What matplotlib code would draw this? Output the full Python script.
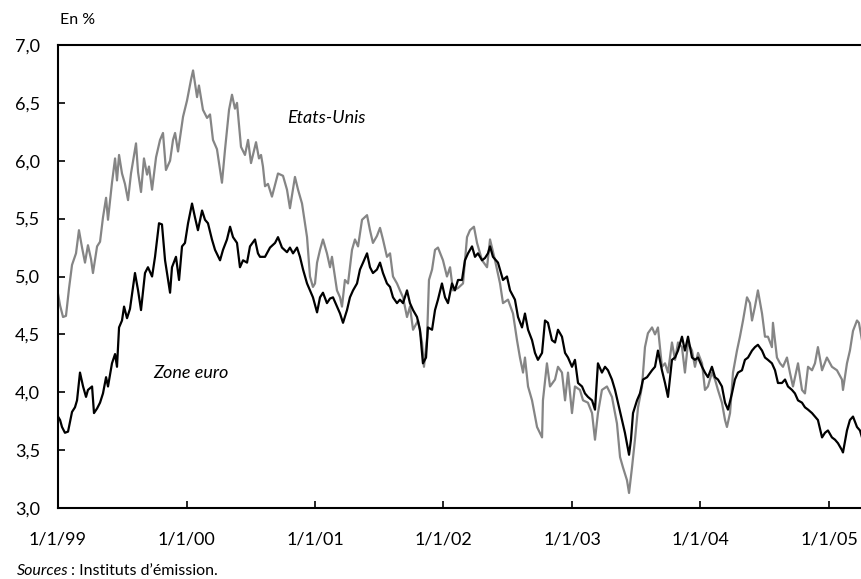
import matplotlib
matplotlib.use("Agg")
import matplotlib.pyplot as plt

# Taux longs (10 ans) - dates en années décimales
us_t = [1999.000, 1999.016, 1999.039, 1999.062, 1999.086, 1999.109, 1999.140, 1999.163, 1999.187, 1999.210,
        1999.233, 1999.257, 1999.272, 1999.304, 1999.327, 1999.350, 1999.374, 1999.389, 1999.420, 1999.444,
        1999.459, 1999.475, 1999.498, 1999.521, 1999.545, 1999.568, 1999.607, 1999.623, 1999.646, 1999.669,
        1999.693, 1999.708, 1999.732, 1999.763, 1999.794, 1999.817, 1999.840, 1999.872, 1999.895, 1999.911,
        1999.934, 1999.973, 2000.004, 2000.035, 2000.051, 2000.082, 2000.097, 2000.128, 2000.160, 2000.183,
        2000.206, 2000.237, 2000.253, 2000.276, 2000.300, 2000.331, 2000.354, 2000.377, 2000.393, 2000.409,
        2000.424, 2000.455, 2000.479, 2000.502, 2000.541, 2000.564, 2000.580, 2000.595, 2000.611, 2000.634,
        2000.665, 2000.712, 2000.751, 2000.782, 2000.805, 2000.844, 2000.868, 2000.899, 2000.938, 2000.961,
        2000.984, 2001.000, 2001.016, 2001.039, 2001.062, 2001.093, 2001.117, 2001.132, 2001.171, 2001.195,
        2001.210, 2001.233, 2001.257, 2001.288, 2001.311, 2001.335, 2001.366, 2001.405, 2001.428, 2001.451,
        2001.482, 2001.506, 2001.529, 2001.560, 2001.584, 2001.607, 2001.638, 2001.661, 2001.685, 2001.716,
        2001.739, 2001.763, 2001.802, 2001.833, 2001.848, 2001.872, 2001.887, 2001.911, 2001.934, 2001.957,
        2001.996, 2002.027, 2002.051, 2002.074, 2002.113, 2002.152, 2002.183, 2002.206, 2002.237, 2002.261,
        2002.300, 2002.339, 2002.362, 2002.401, 2002.440, 2002.463, 2002.502, 2002.541, 2002.572, 2002.595,
        2002.619, 2002.634, 2002.658, 2002.689, 2002.728, 2002.767, 2002.774, 2002.805, 2002.829, 2002.868,
        2002.891, 2002.922, 2002.946, 2002.969, 2003.000, 2003.023, 2003.062, 2003.086, 2003.124, 2003.156,
        2003.179, 2003.202, 2003.233, 2003.272, 2003.311, 2003.350, 2003.374, 2003.397, 2003.428, 2003.444,
        2003.467, 2003.490, 2003.514, 2003.545, 2003.568, 2003.591, 2003.623, 2003.646, 2003.669, 2003.700,
        2003.724, 2003.747, 2003.778, 2003.802, 2003.825, 2003.856, 2003.879, 2003.903, 2003.934, 2003.957,
        2003.981, 2004.012, 2004.035, 2004.058, 2004.089, 2004.113, 2004.136, 2004.167, 2004.191, 2004.206,
        2004.230, 2004.253, 2004.284, 2004.307, 2004.331, 2004.362, 2004.385, 2004.401, 2004.424, 2004.447,
        2004.479, 2004.502, 2004.525, 2004.556, 2004.564, 2004.595, 2004.619, 2004.642, 2004.673, 2004.696,
        2004.720, 2004.759, 2004.790, 2004.813, 2004.837, 2004.868, 2004.891, 2004.914, 2004.946, 2004.984,
        2005.023, 2005.062, 2005.101, 2005.109, 2005.140, 2005.163, 2005.187, 2005.218, 2005.233, 2005.257]
us_v = [4.85, 4.75, 4.65, 4.66, 4.90, 5.10, 5.20, 5.40, 5.25, 5.12,
        5.27, 5.15, 5.03, 5.26, 5.30, 5.51, 5.68, 5.49, 5.81, 6.02,
        5.83, 6.05, 5.89, 5.80, 5.66, 5.89, 6.15, 5.90, 5.73, 6.02,
        5.88, 5.95, 5.75, 6.03, 6.18, 6.24, 5.92, 6.00, 6.18, 6.24,
        6.08, 6.38, 6.52, 6.70, 6.78, 6.55, 6.65, 6.44, 6.37, 6.40,
        6.18, 6.10, 5.98, 5.81, 6.10, 6.44, 6.57, 6.45, 6.50, 6.30,
        6.12, 6.05, 6.18, 5.98, 6.16, 6.02, 6.05, 5.95, 5.78, 5.80,
        5.69, 5.89, 5.87, 5.75, 5.59, 5.86, 5.75, 5.63, 5.34, 5.00,
        4.91, 4.94, 5.12, 5.23, 5.32, 5.20, 5.08, 5.17, 4.88, 4.82,
        4.74, 4.97, 4.94, 5.23, 5.32, 5.26, 5.49, 5.53, 5.40, 5.29,
        5.35, 5.42, 5.32, 5.17, 5.20, 5.00, 4.94, 4.88, 4.82, 4.65,
        4.74, 4.54, 4.62, 4.43, 4.22, 4.47, 4.97, 5.06, 5.23, 5.25,
        5.14, 5.00, 5.08, 4.88, 4.90, 4.94, 5.34, 5.40, 5.43, 5.29,
        5.14, 5.08, 5.32, 5.14, 4.94, 4.77, 4.80, 4.68, 4.45, 4.30,
        4.17, 4.30, 4.05, 3.93, 3.70, 3.61, 3.93, 4.25, 4.05, 4.11,
        4.22, 4.17, 3.93, 4.17, 3.82, 4.05, 4.02, 3.93, 3.91, 3.82,
        3.59, 3.82, 4.02, 4.05, 3.96, 3.73, 3.44, 3.35, 3.24, 3.13,
        3.35, 3.59, 3.87, 4.05, 4.39, 4.51, 4.56, 4.50, 4.56, 4.22,
        4.25, 4.17, 4.43, 4.28, 4.43, 4.39, 4.17, 4.43, 4.36, 4.22,
        4.34, 4.25, 4.02, 4.05, 4.17, 4.11, 4.02, 3.91, 3.76, 3.70,
        3.82, 4.17, 4.36, 4.48, 4.62, 4.82, 4.77, 4.62, 4.74, 4.88,
        4.68, 4.48, 4.48, 4.39, 4.60, 4.30, 4.25, 4.22, 4.30, 4.17,
        4.05, 4.25, 4.02, 3.99, 4.22, 4.19, 4.25, 4.39, 4.19, 4.30,
        4.22, 4.19, 4.11, 4.02, 4.25, 4.36, 4.53, 4.62, 4.60, 4.45]

eu_t = [1999.000, 1999.016, 1999.031, 1999.054, 1999.078, 1999.109, 1999.132, 1999.148, 1999.171, 1999.195,
        1999.218, 1999.233, 1999.265, 1999.280, 1999.304, 1999.327, 1999.350, 1999.374, 1999.389, 1999.420,
        1999.444, 1999.459, 1999.475, 1999.498, 1999.514, 1999.537, 1999.560, 1999.584, 1999.599, 1999.623,
        1999.646, 1999.677, 1999.700, 1999.732, 1999.755, 1999.786, 1999.809, 1999.833, 1999.872, 1999.887,
        1999.918, 1999.942, 1999.965, 1999.988, 2000.012, 2000.043, 2000.066, 2000.089, 2000.121, 2000.144,
        2000.167, 2000.198, 2000.222, 2000.261, 2000.284, 2000.315, 2000.339, 2000.362, 2000.393, 2000.416,
        2000.440, 2000.471, 2000.494, 2000.533, 2000.556, 2000.572, 2000.611, 2000.650, 2000.689, 2000.712,
        2000.743, 2000.782, 2000.805, 2000.829, 2000.860, 2000.883, 2000.907, 2000.938, 2000.961, 2000.984,
        2001.016, 2001.039, 2001.062, 2001.093, 2001.117, 2001.140, 2001.171, 2001.195, 2001.218, 2001.249,
        2001.272, 2001.296, 2001.327, 2001.350, 2001.374, 2001.405, 2001.428, 2001.451, 2001.482, 2001.506,
        2001.529, 2001.560, 2001.584, 2001.607, 2001.638, 2001.661, 2001.685, 2001.716, 2001.739, 2001.763,
        2001.794, 2001.817, 2001.840, 2001.864, 2001.879, 2001.911, 2001.934, 2001.957, 2001.988, 2002.012,
        2002.035, 2002.066, 2002.089, 2002.113, 2002.144, 2002.167, 2002.191, 2002.222, 2002.245, 2002.268,
        2002.300, 2002.323, 2002.346, 2002.362, 2002.385, 2002.424, 2002.463, 2002.494, 2002.518, 2002.556,
        2002.580, 2002.611, 2002.634, 2002.658, 2002.689, 2002.712, 2002.735, 2002.767, 2002.790, 2002.813,
        2002.844, 2002.868, 2002.891, 2002.922, 2002.946, 2002.969, 2003.000, 2003.023, 2003.047, 2003.078,
        2003.101, 2003.124, 2003.156, 2003.179, 2003.202, 2003.233, 2003.257, 2003.280, 2003.311, 2003.335,
        2003.358, 2003.389, 2003.412, 2003.444, 2003.459, 2003.475, 2003.506, 2003.529, 2003.553, 2003.584,
        2003.623, 2003.646, 2003.669, 2003.700, 2003.724, 2003.747, 2003.778, 2003.802, 2003.825, 2003.856,
        2003.879, 2003.903, 2003.934, 2003.957, 2003.981, 2004.012, 2004.035, 2004.058, 2004.089, 2004.113,
        2004.136, 2004.167, 2004.191, 2004.214, 2004.245, 2004.268, 2004.292, 2004.323, 2004.346, 2004.370,
        2004.401, 2004.424, 2004.447, 2004.479, 2004.502, 2004.525, 2004.556, 2004.580, 2004.603, 2004.634,
        2004.658, 2004.681, 2004.712, 2004.735, 2004.759, 2004.790, 2004.813, 2004.837, 2004.868, 2004.891,
        2004.914, 2004.946, 2004.969, 2004.992, 2005.023, 2005.047, 2005.070, 2005.101, 2005.109, 2005.140,
        2005.163, 2005.187, 2005.218, 2005.241, 2005.257]
eu_v = [3.79, 3.76, 3.70, 3.65, 3.66, 3.83, 3.87, 3.93, 4.17, 4.05,
        3.96, 4.02, 4.05, 3.82, 3.86, 3.91, 3.99, 4.13, 4.05, 4.25,
        4.33, 4.22, 4.56, 4.62, 4.74, 4.64, 4.72, 4.91, 5.03, 4.88,
        4.71, 5.03, 5.08, 5.00, 5.17, 5.46, 5.45, 5.14, 4.86, 5.08,
        5.17, 4.97, 5.26, 5.29, 5.46, 5.63, 5.51, 5.40, 5.57, 5.49,
        5.46, 5.32, 5.23, 5.14, 5.23, 5.32, 5.43, 5.34, 5.29, 5.08,
        5.14, 5.12, 5.26, 5.32, 5.20, 5.17, 5.17, 5.25, 5.29, 5.34,
        5.25, 5.21, 5.25, 5.20, 5.25, 5.17, 5.06, 4.94, 4.88, 4.82,
        4.69, 4.82, 4.86, 4.77, 4.81, 4.82, 4.74, 4.68, 4.60, 4.71,
        4.82, 4.88, 4.94, 5.06, 5.12, 5.20, 5.08, 5.03, 5.06, 5.12,
        5.03, 4.94, 4.91, 4.82, 4.77, 4.80, 4.77, 4.88, 4.77, 4.71,
        4.65, 4.54, 4.25, 4.30, 4.56, 4.54, 4.71, 4.80, 4.94, 4.82,
        4.77, 4.94, 4.88, 4.97, 4.97, 5.14, 5.20, 5.26, 5.17, 5.20,
        5.14, 5.16, 5.20, 5.26, 5.17, 5.12, 4.97, 5.00, 4.88, 4.80,
        4.65, 4.56, 4.68, 4.54, 4.45, 4.34, 4.28, 4.34, 4.62, 4.60,
        4.45, 4.43, 4.54, 4.48, 4.34, 4.30, 4.22, 4.28, 4.08, 4.05,
        3.99, 3.96, 3.93, 3.85, 4.25, 4.17, 4.22, 4.19, 4.11, 4.02,
        3.91, 3.76, 3.65, 3.46, 3.59, 3.82, 3.93, 3.99, 4.11, 4.13,
        4.19, 4.22, 4.36, 4.19, 4.08, 3.96, 4.28, 4.30, 4.36, 4.48,
        4.36, 4.48, 4.30, 4.28, 4.30, 4.22, 4.17, 4.13, 4.22, 4.13,
        4.11, 4.05, 3.91, 3.85, 3.99, 4.11, 4.17, 4.19, 4.28, 4.30,
        4.36, 4.39, 4.41, 4.36, 4.30, 4.28, 4.25, 4.19, 4.08, 4.08,
        4.11, 4.05, 4.02, 3.99, 3.93, 3.91, 3.87, 3.85, 3.82, 3.79,
        3.76, 3.61, 3.65, 3.67, 3.61, 3.59, 3.56, 3.50, 3.48, 3.67,
        3.76, 3.79, 3.70, 3.67, 3.61]

years = [1999, 2000, 2001, 2002, 2003, 2004, 2005]
year_labels = ["1/1/99", "1/1/00", "1/1/01", "1/1/02", "1/1/03", "1/1/04", "1/1/05"]
y_ticks = [3.0, 3.5, 4.0, 4.5, 5.0, 5.5, 6.0, 6.5, 7.0]

plt.rcParams['font.family'] = ['Lato', 'DejaVu Sans']

fig = plt.figure(figsize=(8.62, 5.79), dpi=100)
ax = fig.add_axes([0.0673, 0.1226, 0.9327, 0.7997])

ax.plot(us_t, us_v, color="#858585", linewidth=1.6)
ax.plot(eu_t, eu_v, color="black", linewidth=1.6)

ax.set_xlim(1999.0, 2005.257)
ax.set_ylim(3.0, 7.0)

ax.set_xticks(years)
ax.set_xticklabels(year_labels)
ax.set_yticks(y_ticks)
ax.set_yticklabels([f"{v:.1f}".replace(".", ",") for v in y_ticks])
ax.tick_params(axis="both", direction="in", length=5, width=1.2, labelsize=13, colors="black")
ax.tick_params(axis="y", pad=13)
ax.tick_params(axis="x", pad=17)

for s in ["left", "top", "bottom"]:
    ax.spines[s].set_linewidth(1.5)
ax.spines["right"].set_visible(False)

ax.text(2000.78, 6.37, "Etats-Unis", style="italic", fontsize=13, va="center", ha="left")
ax.text(1999.74, 4.17, "Zone euro", style="italic", fontsize=13, va="center", ha="left")

fig.text(0.070, 0.965, "En %", fontsize=11.5, va="center", ha="left")
src = fig.text(0.020, 0.007, "Sources", style="italic", fontsize=11.5, va="baseline", ha="left")
ax.annotate("\u2009: Instituts d’émission.", xy=(1, 0), xycoords=src, va="bottom", ha="left",
            fontsize=11.5, annotation_clip=False)

fig.savefig("out.png", dpi=100)
